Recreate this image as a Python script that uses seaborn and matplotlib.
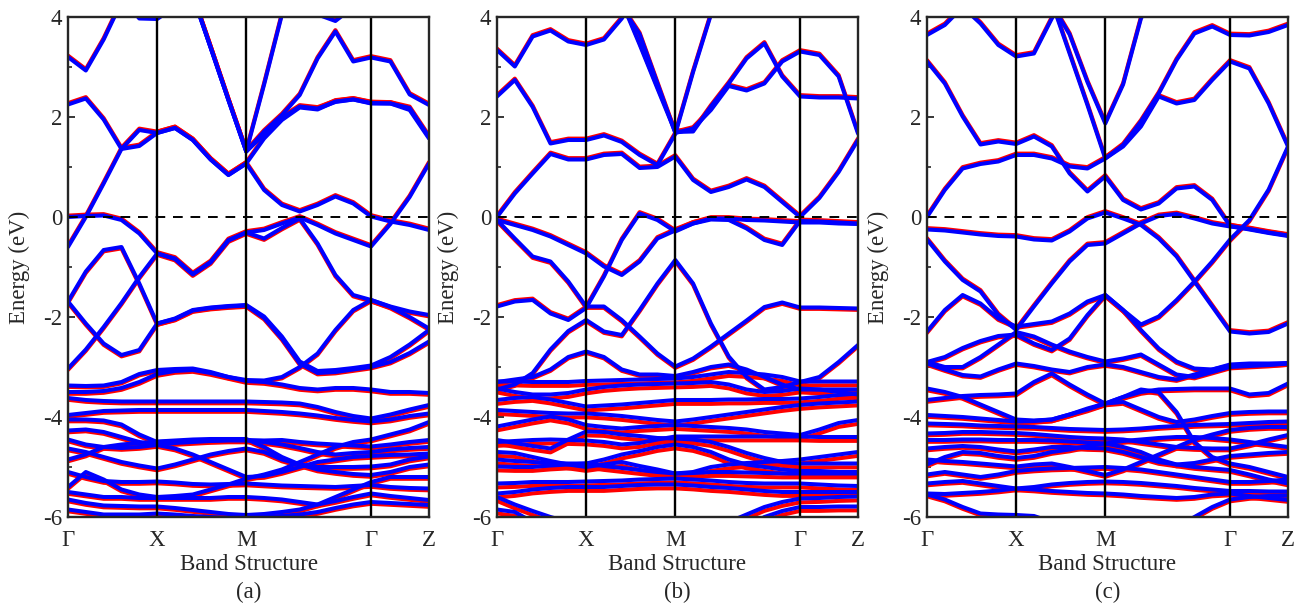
import numpy as np
import pandas as pd
import seaborn as sns
import matplotlib.pyplot as plt
from matplotlib.transforms import ScaledTranslation

# k-path: Gamma - X - M - Gamma - Z
k_path = [0, .2, .4, .6, .8, 1.0, 1.2, 1.4, 1.6, 1.8, 2.0, 2.2, 2.4, 2.6, 2.8, 3.0, 3.2, 3.4, 3.617, 3.833, 4.05]
k_ticks = [0, 1, 2, 3.4, 4.05]
k_labels = ['Γ', 'X', 'M', 'Γ', 'Z']
panel_tags = ['(a)', '(b)', '(c)']

H = 4.8  # off-chart above
L = -6.3  # off-chart below

bands_a = [
    [3.2, 2.93, 3.55, 4.3, H, H, H, H, H, H, H, H, H, H, H, H, H, H, H, H, H],
    [H, H, H, 4.4, 3.97, 3.96, 4.2, H, H, H, H, H, H, H, H, H, H, H, H, H, H],
    [H, H, H, H, H, H, H, H, H, H, H, H, H, 4.4, 4.05, 3.92, 4.2, 4.6, H, H, H],
    [2.25, 2.37, 1.95, 1.36, 1.42, 1.68, 1.78, 1.54, 1.15, 0.84, 1.07, 0.54, 0.24, 0.11, 0.24, 0.41, 0.27, 0.01, -0.09, -0.16, -0.26],
    [-0.6, 0.0, 0.67, 1.36, 1.74, 1.68, 1.78, 1.54, 1.15, 0.84, 1.07, 1.57, 1.94, 2.19, 2.15, 2.31, 2.35, 2.27, 2.27, 2.14, 1.57],
    [H, H, H, H, H, H, 5.0, 4.43, 3.39, 2.34, 1.31, 2.65, 4.05, H, H, H, H, H, H, H, H],
    [H, H, H, H, H, H, 5.0, 4.43, 3.39, 2.34, 1.31, 1.71, 2.04, 2.44, 3.17, 3.71, 3.11, 3.19, 3.11, 2.45, 2.24],
    [H, H, H, H, H, H, 5.0, 4.43, 3.39, 2.34, 1.31, 1.65, 1.98, 2.21, 2.17, 2.3, 2.35, 2.28, 2.27, 2.18, 1.6],
    [0.0, 0.02, 0.03, -0.06, -0.33, -0.73, -0.83, -1.14, -0.9, -0.46, -0.31, -0.26, -0.13, -0.01, -0.16, -0.33, -0.46, -0.59, -0.14, 0.4, 1.07],
    [-3.03, -2.65, -2.2, -1.72, -1.2, -0.73, -0.84, -1.15, -0.91, -0.47, -0.31, -0.43, -0.22, -0.03, -0.53, -1.16, -1.56, -1.66, -1.79, -1.89, -1.96],
    [-1.69, -1.09, -0.66, -0.6, -1.33, -2.13, -2.03, -1.86, -1.81, -1.78, -1.76, -1.99, -2.39, -2.89, -3.08, -3.06, -3.02, -2.97, -2.8, -2.55, -2.26],
    [-1.69, -2.13, -2.53, -2.76, -2.66, -2.13, -2.04, -1.87, -1.82, -1.79, -1.77, -2.02, -2.43, -2.93, -3.12, -3.1, -3.05, -3.0, -2.9, -2.72, -2.49],
    [-3.37, -3.38, -3.37, -3.3, -3.14, -3.06, -3.04, -3.03, -3.1, -3.2, -3.26, -3.27, -3.2, -3.0, -2.73, -2.26, -1.86, -1.66, -1.8, -2.0, -2.23],
    [-3.5, -3.5, -3.48, -3.42, -3.3, -3.14, -3.08, -3.06, -3.12, -3.2, -3.28, -3.3, -3.35, -3.42, -3.45, -3.42, -3.42, -3.45, -3.5, -3.5, -3.52],
    [-3.62, -3.66, -3.68, -3.69, -3.69, -3.69, -3.69, -3.69, -3.69, -3.69, -3.69, -3.7, -3.71, -3.73, -3.8, -3.9, -3.98, -4.03, -3.95, -3.85, -3.76],
    [-3.96, -3.92, -3.88, -3.87, -3.86, -3.86, -3.86, -3.86, -3.86, -3.86, -3.86, -3.88, -3.9, -3.93, -3.97, -4.02, -4.06, -4.09, -4.05, -3.98, -3.93],
    [-4.05, -4.05, -4.07, -4.15, -4.35, -4.5, -4.49, -4.48, -4.47, -4.46, -4.46, -4.47, -4.46, -4.5, -4.53, -4.55, -4.57, -4.59, -4.55, -4.5, -4.46],
    [-4.27, -4.25, -4.3, -4.4, -4.5, -4.56, -4.63, -4.75, -4.9, -5.05, -5.2, -5.18, -5.1, -5.0, -4.9, -4.85, -4.8, -4.78, -4.76, -4.75, -4.73],
    [-4.63, -4.7, -4.8, -4.9, -4.97, -5.03, -4.95, -4.85, -4.75, -4.68, -4.63, -4.7, -4.85, -4.95, -5.0, -5.0, -5.0, -4.99, -4.95, -4.85, -4.79],
    [-5.1, -5.2, -5.28, -5.3, -5.3, -5.29, -5.31, -5.34, -5.35, -5.34, -5.33, -5.35, -5.37, -5.38, -5.39, -5.4, -5.38, -5.36, -5.4, -5.42, -5.43],
    [-5.65, -5.72, -5.77, -5.78, -5.79, -5.79, -5.82, -5.86, -5.9, -5.94, -5.96, -5.94, -5.9, -5.85, -5.75, -5.68, -5.6, -5.53, -5.58, -5.62, -5.66],
    [-5.85, -5.9, -5.95, -5.95, -5.95, -5.93, -5.95, -5.98, -6.0, -6.02, -6.02, -6.0, -5.98, -5.95, -5.9, -5.82, -5.75, -5.7, -5.72, -5.74, -5.76],
    [-4.85, -4.75, -4.6, -4.55, -4.52, -4.49, -4.47, -4.45, -4.44, -4.44, -4.44, -4.6, -4.8, -4.95, -5.05, -5.1, -5.14, -5.16, -5.1, -5.0, -4.95],
    [-5.4, -5.1, -5.25, -5.45, -5.55, -5.6, -5.58, -5.55, -5.45, -5.35, -5.23, -5.15, -5.05, -4.9, -4.75, -4.6, -4.5, -4.45, -4.35, -4.25, -4.1],
    [-5.5, -5.55, -5.6, -5.6, -5.62, -5.62, -5.62, -5.62, -5.62, -5.6, -5.6, -5.62, -5.65, -5.7, -5.75, -5.6, -5.45, -5.3, -5.2, -5.2, -5.2],
    [-4.45, -4.55, -4.6, -4.62, -4.6, -4.56, -4.52, -4.5, -4.48, -4.47, -4.47, -4.5, -4.55, -4.62, -4.7, -4.75, -4.72, -4.7, -4.65, -4.62, -4.6],
]

bands_b = [
    [3.34, 3.01, 3.61, 3.73, 3.51, 3.44, 3.55, 3.97, 4.6, H, H, H, H, H, H, H, H, H, H, H, H],
    [2.41, 2.74, 2.2, 1.47, 1.54, 1.54, 1.63, 1.5, 1.24, 1.04, 1.66, 2.9, 4.05, H, H, H, H, H, H, H, H],
    [0.0, 0.47, 0.87, 1.26, 1.15, 1.15, 1.24, 1.26, 0.98, 1.0, 1.21, 0.74, 0.5, 0.6, 0.75, 0.6, 0.3, 0.0, 0.38, 0.9, 1.54],
    [H, H, H, H, H, H, H, 4.3, 3.45, 2.57, 1.7, 1.71, 2.21, 2.67, 3.17, 3.47, 2.81, 2.41, 2.39, 2.39, 2.37],
    [H, H, H, H, H, H, H, 4.2, 3.66, 2.67, 1.68, 1.77, 2.14, 2.62, 2.53, 2.67, 3.11, 3.31, 3.24, 2.81, 1.67],
    [-0.06, -0.16, -0.26, -0.39, -0.56, -0.73, -0.99, -1.16, -0.89, -0.43, -0.27, -0.13, -0.03, -0.03, -0.06, -0.07, -0.09, -0.11, -0.11, -0.13, -0.14],
    [-0.06, -0.43, -0.79, -0.89, -1.29, -1.79, -1.79, -2.06, -2.39, -2.73, -2.99, -2.83, -2.59, -2.33, -2.07, -1.8, -1.71, -1.81, -1.81, -1.82, -1.83],
    [-1.79, -1.69, -1.66, -1.93, -2.06, -1.82, -1.19, -0.46, 0.07, -0.06, -0.29, -0.13, -0.05, -0.06, -0.23, -0.46, -0.56, -0.08, -0.09, -0.11, -0.13],
    [-3.45, -3.35, -3.12, -2.65, -2.28, -2.06, -2.29, -2.36, -1.86, -1.33, -0.86, -1.33, -2.13, -2.79, -3.2, -3.45, -3.4, -3.3, -3.2, -2.9, -2.56],
    [-3.3, -3.25, -3.2, -3.05, -2.8, -2.69, -2.8, -3.05, -3.15, -3.15, -3.18, -3.1, -3.0, -2.95, -3.05, -3.2, -3.35, -3.45, -3.45, -3.45, -3.45],
    [-3.29, -3.29, -3.3, -3.3, -3.3, -3.28, -3.27, -3.26, -3.25, -3.24, -3.23, -3.2, -3.15, -3.1, -3.12, -3.15, -3.2, -3.29, -3.29, -3.29, -3.29],
    [-3.43, -3.5, -3.55, -3.55, -3.52, -3.45, -3.4, -3.37, -3.35, -3.34, -3.33, -3.32, -3.3, -3.35, -3.45, -3.5, -3.48, -3.43, -3.45, -3.5, -3.55],
    [-3.66, -3.62, -3.6, -3.65, -3.72, -3.79, -3.77, -3.75, -3.72, -3.69, -3.66, -3.66, -3.66, -3.65, -3.65, -3.64, -3.64, -3.63, -3.6, -3.56, -3.53],
    [-3.86, -3.88, -3.9, -3.92, -3.93, -3.93, -3.95, -3.98, -4.02, -4.06, -4.09, -4.05, -4.0, -3.95, -3.9, -3.85, -3.8, -3.76, -3.73, -3.71, -3.69],
    [-4.19, -4.12, -4.05, -3.99, -4.05, -4.16, -4.2, -4.23, -4.2, -4.18, -4.16, -4.18, -4.2, -4.22, -4.25, -4.3, -4.33, -4.36, -4.25, -4.12, -4.06],
    [-4.46, -4.52, -4.58, -4.63, -4.45, -4.29, -4.3, -4.35, -4.38, -4.42, -4.43, -4.45, -4.5, -4.6, -4.72, -4.82, -4.9, -4.93, -4.93, -4.93, -4.93],
    [-4.5, -4.48, -4.46, -4.45, -4.46, -4.47, -4.5, -4.55, -4.52, -4.45, -4.39, -4.39, -4.39, -4.39, -4.39, -4.39, -4.39, -4.39, -4.4, -4.4, -4.4],
    [-4.85, -4.88, -4.9, -4.92, -4.93, -4.93, -4.85, -4.75, -4.68, -4.6, -4.55, -4.6, -4.7, -4.85, -4.95, -5.0, -5.05, -5.08, -5.08, -5.1, -5.1],
    [-4.7, -4.72, -4.8, -4.88, -4.95, -5.0, -4.95, -4.9, -4.98, -5.05, -5.13, -5.1, -5.0, -4.95, -4.92, -4.9, -4.88, -4.85, -4.8, -4.75, -4.7],
    [-4.99, -5.0, -5.0, -4.97, -4.95, -4.93, -4.98, -5.02, -5.06, -5.1, -5.13, -5.12, -5.1, -5.1, -5.11, -5.12, -5.13, -5.13, -5.13, -5.13, -5.13],
    [-5.33, -5.32, -5.3, -5.3, -5.3, -5.29, -5.28, -5.27, -5.25, -5.24, -5.23, -5.25, -5.27, -5.3, -5.32, -5.33, -5.33, -5.33, -5.35, -5.37, -5.38],
    [-5.53, -5.5, -5.45, -5.42, -5.4, -5.4, -5.4, -5.38, -5.36, -5.35, -5.35, -5.37, -5.4, -5.42, -5.45, -5.48, -5.5, -5.5, -5.5, -5.5, -5.5],
    [-5.6, -5.75, -5.88, -6.0, -6.1, -6.2, L, L, L, L, L, L, -6.25, -6.1, -5.95, -5.8, -5.7, -5.63, -5.62, -5.6, -5.59],
    [-5.85, -5.9, -6.1, L, L, L, L, L, L, L, L, L, L, L, -6.2, -6.0, -5.88, -5.8, -5.8, -5.79, -5.79],
]

bands_c = [
    [3.64, 3.84, 4.2, 3.87, 3.44, 3.21, 3.27, 3.97, 4.6, H, H, H, H, H, H, H, H, H, H, H, H],
    [H, H, H, H, H, H, H, 4.25, 3.65, 2.7, 1.87, 2.65, 3.97, 4.6, H, H, H, H, H, H, H],
    [H, H, H, H, H, H, H, 4.3, 3.27, 2.24, 1.17, 1.41, 1.81, 2.41, 2.27, 2.34, 2.74, 3.11, 2.97, 2.27, 1.41],
    [3.11, 2.67, 2.01, 1.45, 1.51, 1.46, 1.61, 1.41, 0.87, 0.51, 0.81, 0.34, 0.15, 0.27, 0.57, 0.61, 0.34, -0.18, -0.25, -0.32, -0.38],
    [0.0, 0.54, 0.97, 1.06, 1.11, 1.24, 1.24, 1.17, 1.01, 0.97, 1.17, 1.44, 1.91, 2.47, 3.14, 3.67, 3.81, 3.64, 3.63, 3.7, 3.84],
    [-0.25, -0.27, -0.31, -0.35, -0.38, -0.39, -0.45, -0.47, -0.29, -0.03, 0.09, -0.03, -0.16, -0.43, -0.79, -1.29, -1.79, -2.29, -2.33, -2.3, -2.13],
    [-0.45, -0.89, -1.26, -1.49, -1.96, -2.26, -1.79, -1.33, -0.89, -0.56, -0.53, -0.33, -0.13, 0.02, 0.06, -0.03, -0.13, -0.19, -0.24, -0.31, -0.37],
    [-2.29, -1.86, -1.56, -1.73, -2.03, -2.19, -2.14, -2.09, -1.93, -1.69, -1.56, -1.86, -2.15, -1.99, -1.66, -1.29, -0.89, -0.45, -0.06, 0.55, 1.41],
    [-2.9, -2.8, -2.62, -2.48, -2.38, -2.35, -2.53, -2.66, -2.43, -1.96, -1.56, -1.86, -2.26, -2.63, -2.89, -3.03, -3.05, -2.97, -2.95, -2.95, -2.93],
    [-2.9, -3.0, -3.0, -2.8, -2.55, -2.3, -2.39, -2.55, -2.69, -2.8, -2.89, -2.83, -2.75, -2.95, -3.15, -3.2, -3.1, -3.0, -2.98, -2.96, -2.93],
    [-2.93, -3.05, -3.16, -3.19, -3.05, -2.93, -2.98, -3.05, -3.1, -3.0, -2.95, -3.0, -3.1, -3.2, -3.25, -3.15, -3.05, -2.95, -2.93, -2.93, -2.92],
    [-3.66, -3.62, -3.58, -3.56, -3.55, -3.53, -3.3, -3.13, -3.35, -3.55, -3.73, -3.6, -3.45, -3.5, -3.9, -4.5, -4.8, -4.93, -5.0, -5.1, -5.2],
    [-3.43, -3.5, -3.6, -3.75, -3.9, -4.05, -4.07, -4.05, -3.95, -3.83, -3.73, -3.6, -3.5, -3.45, -3.44, -3.43, -3.43, -3.43, -3.55, -3.52, -3.33],
    [-3.96, -3.98, -4.0, -4.03, -4.06, -4.09, -4.08, -4.05, -3.95, -3.85, -3.73, -3.7, -3.85, -4.0, -4.1, -4.05, -3.98, -3.92, -3.9, -3.89, -3.89],
    [-4.13, -4.14, -4.15, -4.17, -4.18, -4.19, -4.2, -4.22, -4.24, -4.25, -4.26, -4.25, -4.23, -4.2, -4.18, -4.16, -4.15, -4.14, -4.12, -4.1, -4.09],
    [-4.33, -4.32, -4.3, -4.3, -4.31, -4.32, -4.34, -4.37, -4.4, -4.42, -4.43, -4.45, -4.5, -4.55, -4.6, -4.62, -4.63, -4.63, -4.55, -4.45, -4.36],
    [-4.46, -4.46, -4.45, -4.45, -4.46, -4.46, -4.46, -4.47, -4.49, -4.51, -4.53, -4.6, -4.7, -4.85, -4.95, -5.0, -5.03, -5.06, -5.15, -5.25, -5.33],
    [-4.63, -4.6, -4.58, -4.6, -4.65, -4.69, -4.65, -4.6, -4.6, -4.62, -4.63, -4.7, -4.8, -4.9, -4.95, -4.92, -4.85, -4.78, -4.75, -4.72, -4.7],
    [-4.85, -4.88, -4.9, -4.93, -4.96, -4.99, -4.95, -4.93, -5.0, -5.08, -5.16, -5.05, -4.9, -4.75, -4.6, -4.45, -4.35, -4.26, -4.22, -4.2, -4.2],
    [-5.33, -5.3, -5.28, -5.33, -5.38, -5.43, -5.4, -5.35, -5.32, -5.3, -5.29, -5.3, -5.32, -5.35, -5.38, -5.42, -5.45, -5.48, -5.48, -5.49, -5.49],
    [-5.53, -5.54, -5.52, -5.5, -5.47, -5.43, -5.45, -5.48, -5.5, -5.52, -5.53, -5.55, -5.58, -5.6, -5.62, -5.6, -5.55, -5.53, -5.58, -5.62, -5.66],
    [-5.55, -5.65, -5.8, -5.93, -5.95, -5.96, -5.98, -6.1, L, L, L, L, L, L, -6.2, -6.0, -5.8, -5.65, -5.6, -5.58, -5.57],
    [-4.95, -4.8, -4.7, -4.72, -4.78, -4.82, -4.78, -4.7, -4.65, -4.58, -4.53, -4.48, -4.45, -4.42, -4.4, -4.4, -4.42, -4.45, -4.5, -4.55, -4.6],
    [-5.15, -5.1, -5.15, -5.2, -5.15, -5.08, -5.05, -5.03, -5.02, -5.01, -5.0, -5.02, -5.05, -5.1, -5.15, -5.2, -5.25, -5.3, -5.3, -5.28, -5.25],
]

# red (spin-down) is drawn a few points off so it peeks out from under blue;
# the deep valence bands of panel (b) are split more
red_shift_deep = [1.3, 2.8, 1.3]

sns.set_style("ticks")
plt.rcParams['font.family'] = ['Liberation Serif', 'DejaVu Serif']
plt.rcParams['axes.unicode_minus'] = False

fig = plt.figure(figsize=(13.05, 6.09), dpi=100)
lefts = [68, 497, 927]
FS = 16.5


def to_frame(bands):
    rows = []
    for i, e in enumerate(bands):
        for kk, ee in zip(k_path, e):
            rows.append((i, kk, ee))
    return pd.DataFrame(rows, columns=['band', 'k', 'E'])


for p, bands in enumerate([bands_a, bands_b, bands_c]):
    ax = fig.add_axes([lefts[p] / 1305, 92 / 609, 361 / 1305, 500 / 609])
    df = to_frame(bands)

    n0 = len(ax.lines)
    sns.lineplot(data=df, x='k', y='E', units='band', estimator=None, sort=False,
                 color='#ff0000', lw=2.9, ax=ax, legend=False)
    for ln, e in zip(ax.lines[n0:], bands):
        e = np.array(e)
        vis = e[(e > -6) & (e < 4)]
        m = vis.mean() if len(vis) else 0
        if m > -1:
            dy = 1.0
        elif m > -3.15:
            dy = -1.0
        else:
            dy = -red_shift_deep[p]
        ln.set_transform(ax.transData + ScaledTranslation(0, dy / 72, fig.dpi_scale_trans))

    sns.lineplot(data=df, x='k', y='E', units='band', estimator=None, sort=False,
                 color='#0000ff', lw=2.9, ax=ax, legend=False)

    for kv in k_ticks[1:4]:
        ax.axvline(kv, color='black', lw=1.7, zorder=5)
    ax.axhline(0, color='black', lw=1.4, ls=(0, (5, 4)), zorder=6)

    ax.set_xlim(0, 4.05)
    ax.set_ylim(-6, 4)
    ax.set_xticks(k_ticks)
    ax.set_xticklabels(k_labels, fontsize=FS)
    ax.set_yticks([-6, -4, -2, 0, 2, 4])
    ax.set_yticks([-5, -3, -1, 1, 3], minor=True)
    ax.tick_params(axis='y', which='major', direction='in', length=5, width=1.3,
                   labelsize=FS, pad=4)
    ax.tick_params(axis='y', which='minor', direction='in', length=3, width=1.2)
    ax.tick_params(axis='x', length=0, pad=9)
    for sp in ax.spines.values():
        sp.set_linewidth(1.7)
        sp.set_zorder(7)

    ax.set_xlabel('Band Structure', fontsize=FS)
    ax.xaxis.set_label_coords(0.5, -0.075)
    ax.set_ylabel('Energy (eV)', fontsize=FS)
    ax.yaxis.set_label_coords(-0.105, 0.5)

    fig.text((lefts[p] + 180.5) / 1305, 1 - 592 / 609, panel_tags[p],
             ha='center', va='center', fontsize=FS)

fig.savefig('out.png', dpi=100)
